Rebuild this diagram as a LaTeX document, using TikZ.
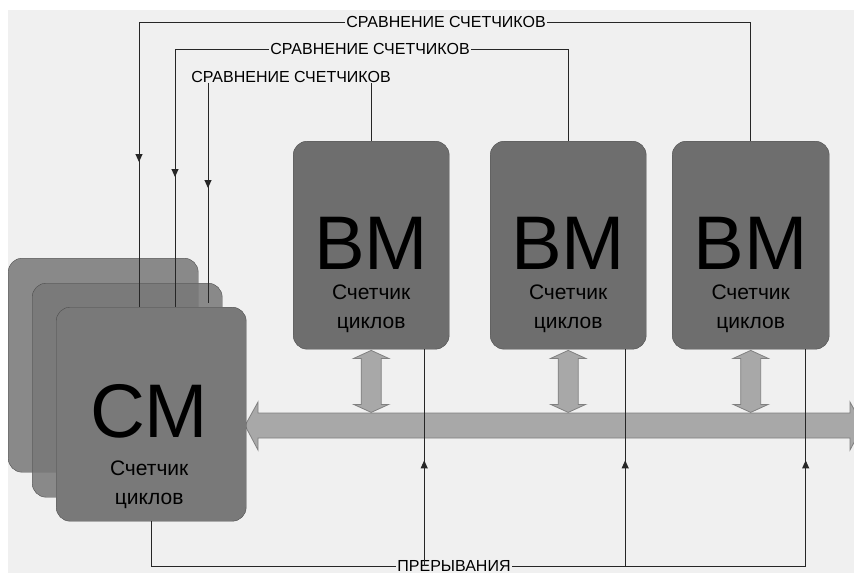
\documentclass[tikz,border=0pt]{standalone}
\usepackage{fontspec}
\setmainfont{Liberation Sans}
\usetikzlibrary{arrows.meta,calc,positioning,decorations.markings}
\definecolor{bggray}{HTML}{F0F0F0}
\definecolor{cmfill}{HTML}{797979}
\definecolor{cmback}{HTML}{787878}
\definecolor{bmfill}{HTML}{6E6E6E}
\definecolor{busfill}{HTML}{A8A8A8}
\tikzset{
  >={Triangle[width=7pt,length=8pt]}
}

\begin{document}
\begin{tikzpicture}[x=1pt,y=-1pt,
    card/.style={rectangle,rounded corners=14pt,draw=black!70,inner sep=0pt,anchor=north west},
    cmcard/.style={card,fill=cmfill,minimum width=190pt,minimum height=214pt},
    bmcard/.style={card,fill=bmfill,minimum width=156pt,minimum height=208pt},
    bigname/.style={inner sep=0pt,anchor=base,font=\fontsize{76}{76}\selectfont},
    cnttxt/.style={inner sep=0pt,anchor=north,align=center,font=\fontsize{21}{29}\selectfont},
    lbl/.style={fill=bggray,inner xsep=1.5pt,inner ysep=0pt,font=\fontsize{16}{16}\selectfont},
    wire/.style={draw=black!85,line width=1pt},
    midarrow/.style={postaction={decorate},decoration={markings,mark=at position #1 with {\arrow{>}}}},
    busarrow/.style={draw=black!50,fill=busfill,line width=0.8pt}
  ]
    \useasboundingbox (0,0) rectangle (854,573);
    \fill[bggray] (8,10) rectangle (854,573);

    % control module stack
    \node (CMback) at (8,258) [cmcard,fill=cmback,fill opacity=0.85] {};
    \node (CMmid) at (32,283) [cmcard,fill=cmback,fill opacity=0.85] {};

    % computing modules
    \node (BM1) at (293,141) [bmcard] {};
    \node (BM2) at (490,141) [bmcard] {};
    \node (BM3) at (672,141) [bmcard,minimum width=157pt] {};
    \foreach \b in {BM1,BM2,BM3} {
        \node at ($(\b.south)+(0,-80)$) [bigname] {ВМ};
        \node at ($(\b.south)+(0,-65)$) [cnttxt] {Счетчик\\циклов};
    }

    % bus
    \path[busarrow] (245,425.5) -- (258,402) -- (258,413) -- (850,413) -- (850,402)
        -- (863,425.5) -- (850,450) -- (850,438) -- (258,438) -- (258,450) -- cycle;
    \foreach \b in {BM1,BM2,BM3}
        \path[busarrow] ($(\b.south)+(0,1)$) -- ++(17.5,8) -- ++(-7.5,0) -- ++(0,46)
            -- ++(7.5,0) -- ++(-17.5,8) -- ++(-17.5,-8) -- ++(7.5,0) -- ++(0,-46)
            -- ++(-7.5,0) -- cycle;

    % counter compare lines
    \node (cmp1) at (446,22) [lbl] {СРАВНЕНИЕ СЧЕТЧИКОВ};
    \node (cmp2) at (370,49) [lbl] {СРАВНЕНИЕ СЧЕТЧИКОВ};
    \node (cmp3) at (291,77) [lbl,fill=none] {СРАВНЕНИЕ СЧЕТЧИКОВ};
    \coordinate (c1) at (139,307);
    \coordinate (c2) at (175,307);
    \coordinate (c3) at (208,303);
    \draw[wire] (BM3.north) |- (cmp1);
    \draw[wire,midarrow=-145pt] (cmp1) -| (c1);
    \draw[wire] (BM2.north) |- (cmp2);
    \draw[wire,midarrow=-130pt] (cmp2) -| (c2);
    \draw[wire] (BM1.north) -- (BM1.north |- cmp3.base);
    \draw[wire,midarrow=-115pt] (c3 |- cmp3.base) -- (c3);

    \node (CMfront) at (56,307) [cmcard] {};
    \node at ($(CMfront.south)+(-2,-84)$) [bigname] {СМ};
    \node at ($(CMfront.south)+(-2,-61)$) [cnttxt] {Счетчик\\циклов};

    % interrupt lines
    \node (irq) at (454,566) [lbl] {ПРЕРЫВАНИЯ};
    \coordinate (b1) at ($(BM1.south)+(53,0)$);
    \coordinate (b2) at ($(BM2.south)+(57,0)$);
    \coordinate (b3) at ($(BM3.south)+(55,0)$);
    \draw[wire] (CMfront.south) |- (irq);
    \draw[wire,midarrow=-111pt] (irq) -| (b3);
    \foreach \b in {b1,b2}
        \draw[wire,midarrow=-111pt] (\b |- irq.center) -- (\b);

\end{tikzpicture}
\end{document}
